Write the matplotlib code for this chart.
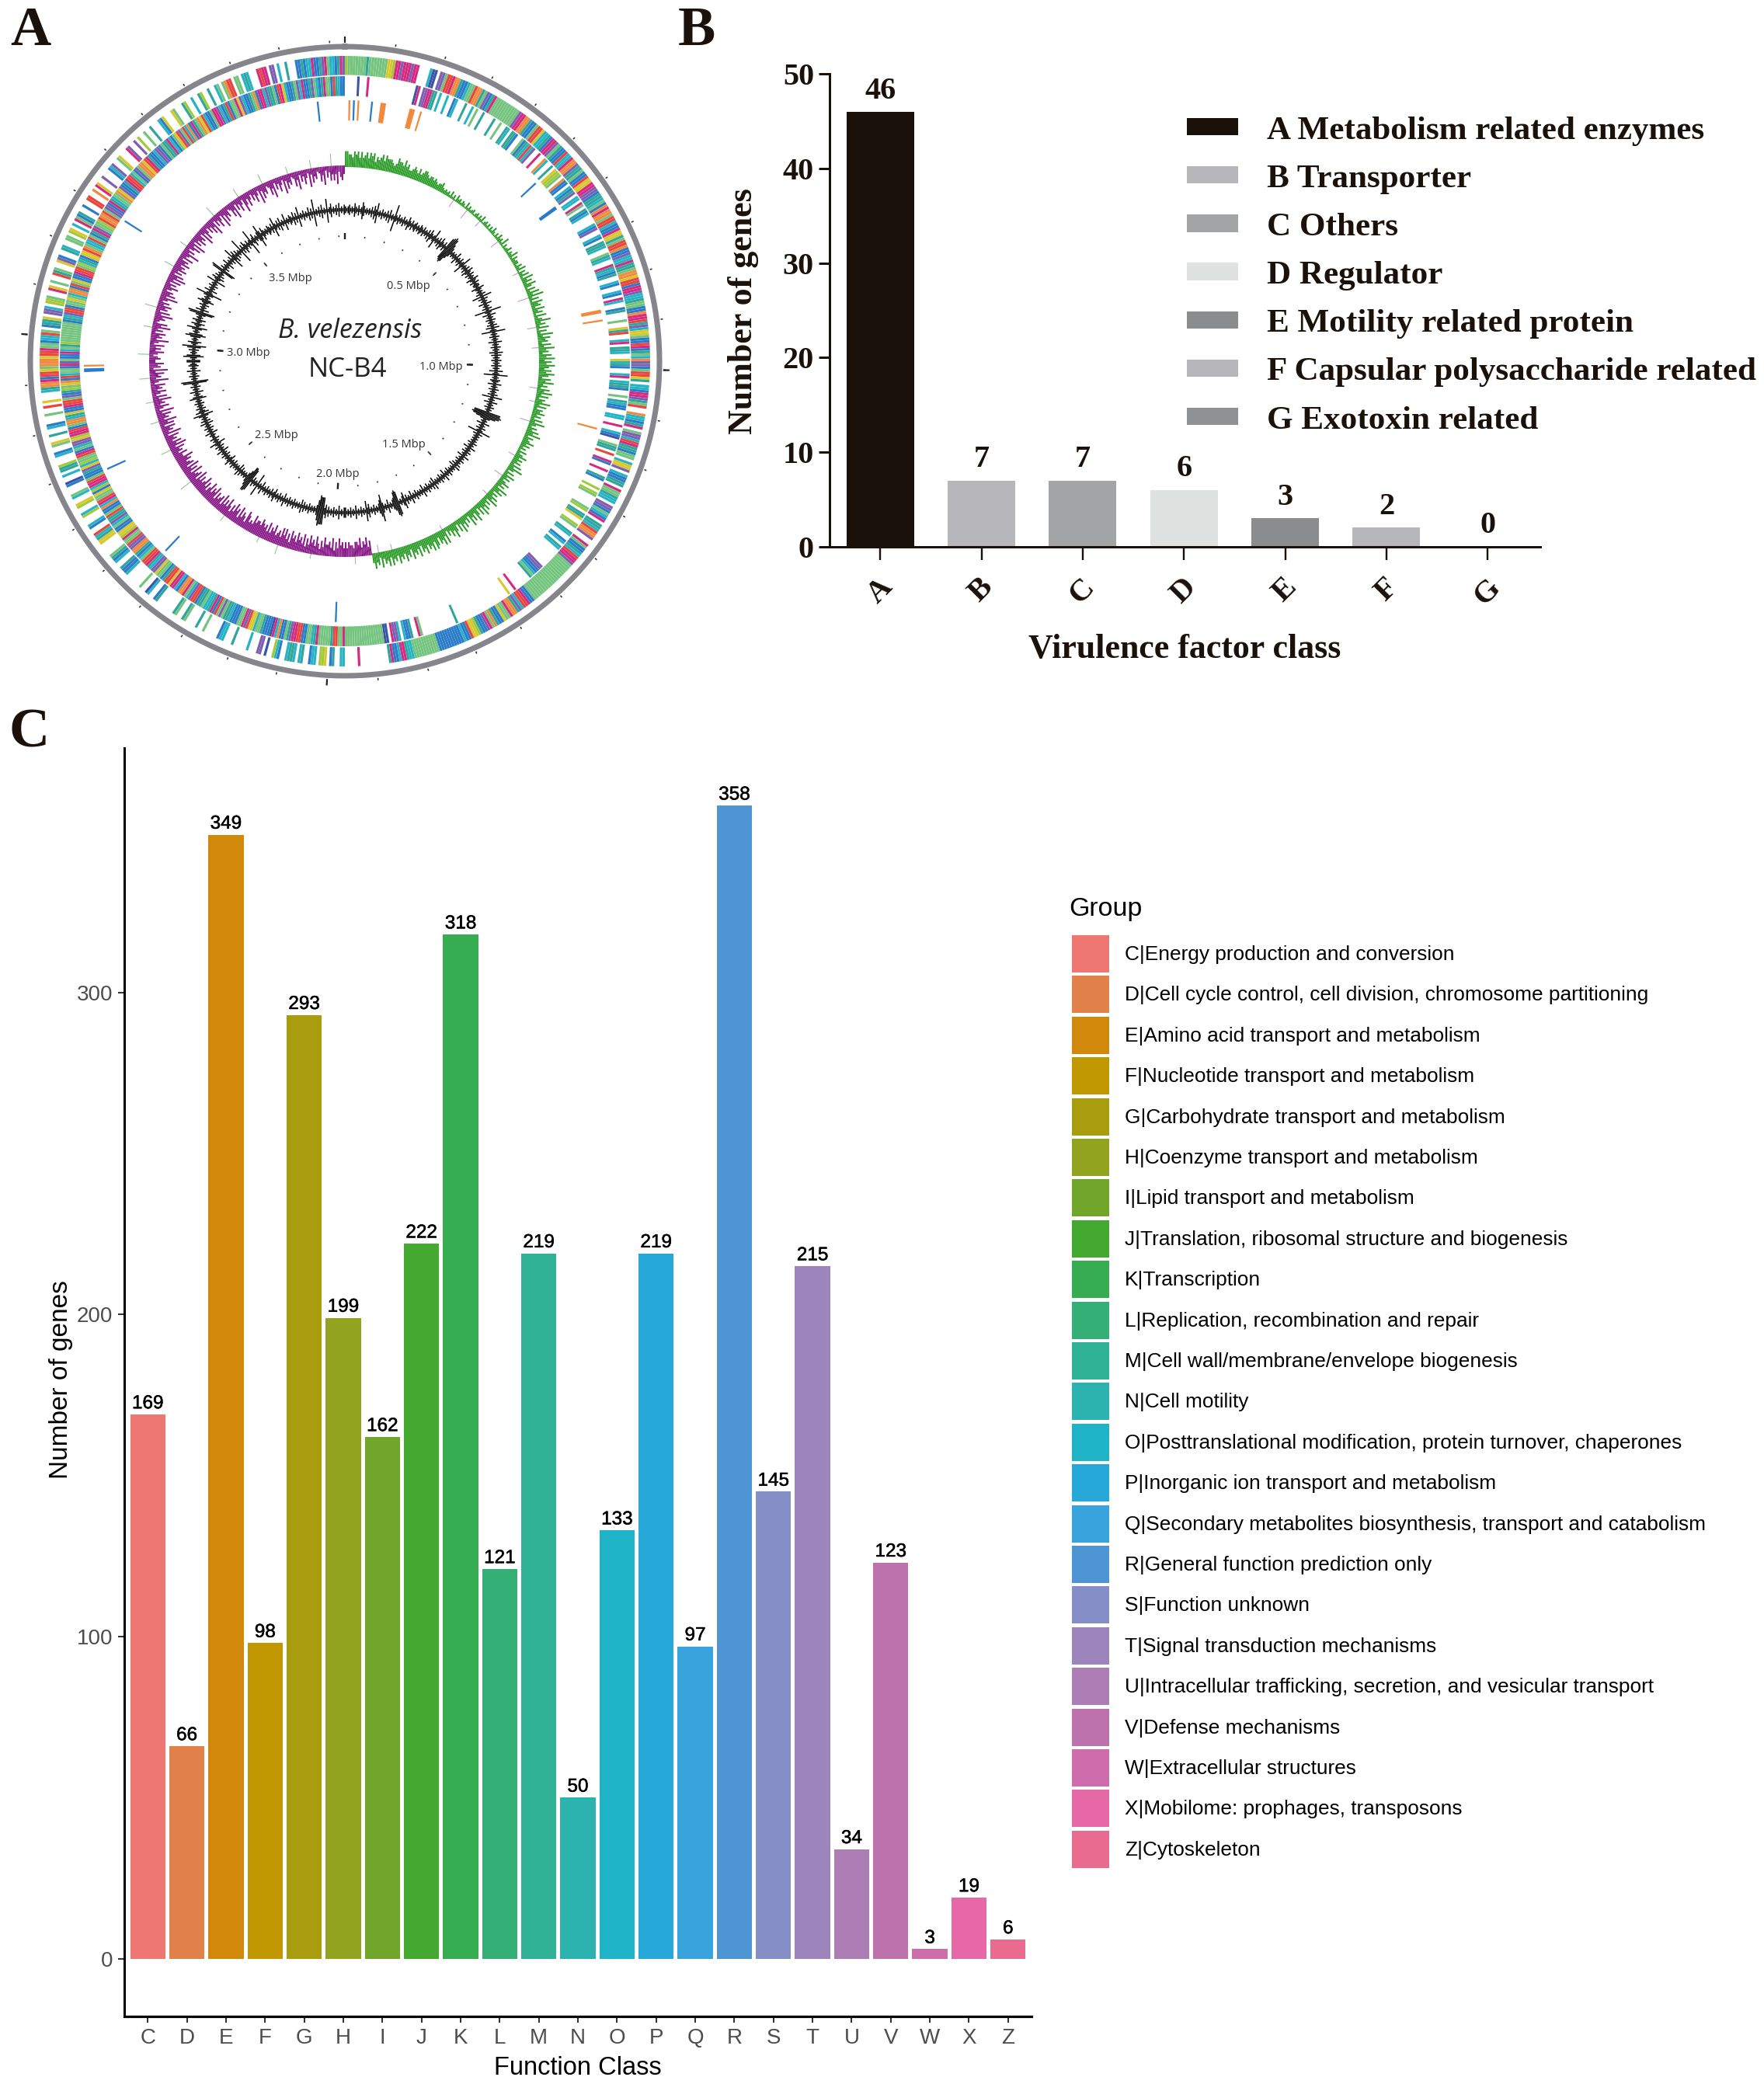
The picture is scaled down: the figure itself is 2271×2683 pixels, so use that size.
import numpy as np
import matplotlib
matplotlib.use('Agg')
import matplotlib.pyplot as plt
import matplotlib.patheffects as pe
from matplotlib.patches import Patch

W, H = 2271, 2683
DPI = 100

# ---------- Panel A data: circular genome map (read sector by sector, 30 degrees per chunk)
genome_mbp = 3.93
code_colors = {'g': '#74c47f', 'b': '#2b7cc8', 'm': '#d42a82', 'c': '#25b3c6', 'o': '#f08a3c',
               'p': '#7d5fb2', 't': '#2fa59c', 'l': '#a2c93a', 'r': '#e8453f', 'y': '#d8c72e',
               'n': '#3a55a8'}
forward_ring = [
    "lgggggggtgggggggyylmmpmmmpmm....cnn.ppgrrmootbbcggrootgpbtm",
    "ggggggggggpmmootbbgrrycctbmmpgtbbrccmoopttgbbryymmppbttcgbom",
    "oogrrcbbmyytgrrobbpccmttgooyrrbmmpcctggbbommrtpcyygbbrmbtgco",
    "ppbgrryt.ccbmmptgr..occbtm.gppcrmttbgg.cyyp.cbbtt.mggtcc.ppb",
    "gcbm.ttcroop..mgbbtcrmmpgggggggggggggggggggbbmrrcptoomggybbt",
    "ogmpbbtlyyrbbcbbbbbbbbbbggggggggggcctmmcbbmt...........m.....",
    "cc..tb.yll.ccb..tc.cttc..bcl..n.pp...c.....t...ccb.....g..t.",
    "...gt..gt.......tb..cn..g......cbbt..cbtg.....yytcr..bc...lc",
    "..ly..cg...bn..c.ttl...cb..gy..t..cb...g..r.y...ctoombrrygoo",
    "oyrrmggbccrg.btty.ppc.llg..my.g..rtg..ypb..tc..gg.ly.c.mgbt.",
    ".b..rr..o.my..p...bcp..gy...mp..p.l..g..t...cby...yg...tl..c",
    "..tl..t..cg.gorr.gg.ctc...mrmm.pp.c..t...bbtbccmbbtpmgccbtmp",
]
reverse_ring = [
    ".....n...m...................nm.ppmmtt.c..c..bc...t..c.g..t.",
    "...t..g..tc.ttb..gbtcrcp..m..oc..t.yllg.obb.cbtp.cc.mg.tbc..",
    "..cbp..cb.ttc..gtc..mtcbt..cb..cb.mc..bt...g..ytr..cm.ttc..y",
    "ctb..cm.cttb..g.tcbb..cc..m..cbn..gtt.r..mb..m..tb...l.lg...",
    "..gl.tty..lg..tc..bc.tc.........ppbbcgt.......m..y..........",
    ".............t..............gm..tbbc.cppm.nngggggggggggggggg",
    "mggrrtgggggmtcggbbrrmmptgbbocmnbbbtggcyyrpmggbbbcttgpgrbmtcc",
    "gttbrrpcgmoobcmmyrrtbggyppctmrrgcbtoopprggmlyybbgcpttrgbbocm",
    "rggyblcmmrgbbtpyclggrmbgcppylmmrbgooctybbmrrgpbtlgyobrcggbmp",
    "gbbmcgtlggggggggbtcprrbggygcoobrgybbmrrglctbyyrogccrgbtmpggl",
    "roorgppbmtcggoypbbtmrrcgbpgooyrmtbbcppbgttmcbgyrpgrcobmtgoyr",
    "cbbgmmpcbtrbggmypcbbtgobmmcpttgbrmycbbtgpcmbbtpgcbtmggbrtcbb",
]
rna_deg = [354, 1, 2, 3, 6, 8.5, 15, 17, 47, 54, 79, 81, 105, 182, 223.4, 245.6, 268, 269, 302.5]
rna_code = list("bobobooobbooobbbbobb")[:19]
rna_span = [1, 1, 1, 1, 1, 3, 3, 1, 1, 2, 2, 1, 1, 1, 1, 1, 2, 1, 1]

skew_values = [
    "998879897978979896878979888767988797866787686788767767656675",
    "454536352645354263534524535362453525364253645372534635473645",
    "536472647385748637485947386748573846957483749586748596748695",
    "869758697486957486958476958476857485964758694756857463746857",
    "574859637485746857496847586947586958479586947586958479685749",
    "697858969786978596879587968796879697869587978697869788677868",
    "687968596877968579687968596879687958697968769786968789788796",
    "768957869587968579686958768597869758697686958769586958768796",
    "685768596857684957684869576859468576958468576846957685947685",
    "576468575846957684759684576958476857469586746857485968475867",
    "586748569574685947586749586475869475864958674586947586497586",
    "475864958674586947586495867458694758649586745869475868695786",
]
skew_switch_deg = 172
counter_deg = [34, 39, 44, 52, 63, 71, 80, 86, 98, 102, 108, 119, 126, 133, 150, 166, 170,
               177, 190, 200, 206, 218, 232, 243, 252, 258, 265, 272, 280, 286, 299, 306, 318, 327, 335, 343, 350, 356]
counter_mag = [8, 10, 7, 9, 6, 11, 9, 7, 8, 6, 10, 7, 9, 6, 5, 6, 8,
               9, 6, 11, 7, 8, 14, 12, 10, 9, 12, 13, 10, 14, 12, 9, 13, 11, 12, 9, 10, 14]
gc_values = [
    "212312142131253121213142612131213141218213121312142131231213",
    "213121314212612131421317898531212141213126121314213121421312",
    "214212131613121412131821412131213141271213121412131214131213",
    "121312141271213214121312131612141213121889863121412131271312",
    "121213121412131214121312131412121312141213121214131213121412",
    "121312141213153121787431214121385312131214261213121412131213",
    "312141213121314288896312121312131412121312131214121312142131",
    "213121412171213178853121213141212131214212131214121312512131",
    "121412131214131213614213121312153121412131278121312141213214",
    "412641213147124121364121361241241213781412131253121382141213",
    "121612413121781312141213172413121813142131281241213731421213",
    "213162131412151213214131612131214131812131412171241213141213",
]

# ---------- Panel B data
vf_classes = ['A', 'B', 'C', 'D', 'E', 'F', 'G']
vf_counts = [46, 7, 7, 6, 3, 2, 0]
vf_legend = ['A Metabolism related enzymes', 'B Transporter', 'C Others', 'D Regulator',
             'E Motility related protein', 'F Capsular polysaccharide related', 'G Exotoxin related']
vf_colors = ['#1a120a', '#b7b7bb', '#a3a4a6', '#e0e1e1', '#8b8c8e', '#b7b7bb', '#8f9092']

# ---------- Panel C data
cog_classes = list("CDEFGHIJKLMNOPQRSTUVWXZ")
cog_counts = [169, 66, 349, 98, 293, 199, 162, 222, 318, 121, 219, 50, 133, 219, 97, 358, 145, 215, 34, 123, 3, 19, 6]
cog_names = ['C|Energy production and conversion',
             'D|Cell cycle control, cell division, chromosome partitioning',
             'E|Amino acid transport and metabolism',
             'F|Nucleotide transport and metabolism',
             'G|Carbohydrate transport and metabolism',
             'H|Coenzyme transport and metabolism',
             'I|Lipid transport and metabolism',
             'J|Translation, ribosomal structure and biogenesis',
             'K|Transcription',
             'L|Replication, recombination and repair',
             'M|Cell wall/membrane/envelope biogenesis',
             'N|Cell motility',
             'O|Posttranslational modification, protein turnover, chaperones',
             'P|Inorganic ion transport and metabolism',
             'Q|Secondary metabolites biosynthesis, transport and catabolism',
             'R|General function prediction only',
             'S|Function unknown',
             'T|Signal transduction mechanisms',
             'U|Intracellular trafficking, secretion, and vesicular transport',
             'V|Defense mechanisms',
             'W|Extracellular structures',
             'X|Mobilome: prophages, transposons',
             'Z|Cytoskeleton']
cog_colors = ['#ee7772', '#e2824a', '#d2880a', '#c19800', '#aa9c0f', '#92a31f', '#72a62b', '#43aa2f',
              '#35ad50', '#34b077', '#2fb296', '#2cb3b0', '#1fb3c8', '#26a9d8', '#38a3dc', '#4e95d3',
              '#868ec7', '#9d84bd', '#ad7db5', '#bd72ad', '#cd6dab', '#e768a6', '#ea6b90']

SERIF = 'Liberation Serif'
SANS = 'Liberation Sans'
DARK = '#1a120a'
px = 72.0 / DPI  # points per pixel

fig = plt.figure(figsize=(W / DPI, H / DPI), dpi=DPI, facecolor='white')


def box(left, top, right, bottom, **kw):
    return fig.add_axes([left / W, 1 - bottom / H, (right - left) / W, (bottom - top) / H], **kw)


def ptext(x, y, s, **kw):
    kw.setdefault('ha', 'center')
    kw.setdefault('va', 'center')
    return fig.text(x / W, 1 - y / H, s, **kw)


def handle_h(height_px, font_px):
    # matplotlib handle height = fontsize*(0.65*hh + 0.245)
    return (height_px / font_px - 0.245) / 0.65


# ---------- Panel A
R = 440
cx, cy = 444, 465
axA = box(cx - R, cy - R, cx + R, cy + R, projection='polar')
axA.set_theta_zero_location('N')
axA.set_theta_direction(-1)
axA.set_ylim(0, R)
axA.axis('off')


def draw_ring(chunks, r0, r1):
    th, wd, cl = [], [], []
    for k, chunk in enumerate(chunks):
        step = 30.0 / len(chunk)
        for i, ch in enumerate(chunk):
            if ch != '.':
                th.append(np.deg2rad(k * 30 + (i + 0.5) * step))
                wd.append(np.deg2rad(step * 0.97))
                cl.append(code_colors[ch])
    axA.bar(th, r1 - r0, width=wd, bottom=r0, color=cl, linewidth=0)


draw_ring(forward_ring, 368.5, 393)
draw_ring(reverse_ring, 341.5, 367)
axA.bar(np.deg2rad(rna_deg), 26, width=np.deg2rad(np.array(rna_span) * 0.4), bottom=310,
        color=[code_colors[c] for c in rna_code], linewidth=0)

# skew track
sk_th, sk_val = [], []
for k, chunk in enumerate(skew_values):
    step = 30.0 / len(chunk)
    for i, ch in enumerate(chunk):
        sk_th.append(k * 30 + (i + 0.5) * step)
        sk_val.append(int(ch))
sk_th = np.array(sk_th)
sk_val = np.array(sk_val, float)
pos = sk_th < skew_switch_deg
base = 251
cd = np.array(counter_deg, float)
cm = np.array(counter_mag, float)
cp = cd < skew_switch_deg
axA.vlines(np.deg2rad(cd[cp]), base - cm[cp] * 1.4, base, colors='#c79ad0', lw=1.1 * px)
axA.vlines(np.deg2rad(cd[~cp]), base, base + cm[~cp] * 1.2, colors='#8ccb88', lw=1.1 * px)
axA.vlines(np.deg2rad(sk_th[pos]), base - 1, base + sk_val[pos] ** 2 * 0.24, colors='#279a24', lw=2.0 * px)
axA.vlines(np.deg2rad(sk_th[~pos]), base - sk_val[~pos] ** 2 * 0.28, base + 1, colors='#861586', lw=2.0 * px)

# GC track
gc_th, gc_val = [], []
for k, chunk in enumerate(gc_values):
    step = 30.0 / len(chunk)
    for i, ch in enumerate(chunk):
        gc_th.append(k * 30 + (i + 0.5) * step)
        gc_val.append(int(ch))
gc_val = np.array(gc_val, float)
axA.vlines(np.deg2rad(gc_th), 195 - gc_val * 2.2, 195 + gc_val * 2.2, colors='#000000', lw=1.5 * px)

# outer ring and scale ticks
ring_t = np.linspace(0, 2 * np.pi, 721)
axA.plot(ring_t, np.full_like(ring_t, 405), color='#85858b', lw=7 * px)
mbp_minor = np.arange(0, genome_mbp, 0.1)
mbp_half = np.arange(0, genome_mbp, 0.5)
mbp_major = np.arange(0, genome_mbp, 1.0)
to_rad = lambda m: m / genome_mbp * 2 * np.pi
axA.vlines(to_rad(mbp_minor), 410, 413, colors='#333333', lw=1.6 * px)
axA.vlines(to_rad(mbp_major), 410, 418, colors='#222222', lw=2.2 * px)
axA.vlines(to_rad(mbp_minor), 160, 162, colors='#333333', lw=1.6 * px)
axA.vlines(to_rad(mbp_half), 158, 164, colors='#333333', lw=1.6 * px)
axA.vlines(to_rad(mbp_major), 157, 165, colors='#222222', lw=2.4 * px)

for x, y, s in [(374, 359, '3.5 Mbp'), (526, 368.5, '0.5 Mbp'), (320, 455, '3.0 Mbp'), (568, 472, '1.0 Mbp'),
                (356, 560, '2.5 Mbp'), (520, 572, '1.5 Mbp'), (435, 611, '2.0 Mbp')]:
    ptext(x, y, s, fontsize=10.5, family='Open Sans', color='#333333')
ptext(451, 426, 'B. velezensis', fontsize=24.5, family='Open Sans', style='italic', color='#222222')
ptext(447, 476, 'NC-B4', fontsize=25, family='Open Sans', color='#222222')

# ---------- Panel letters
for x, y, s in [(39, 41, 'A'), (897, 41, 'B'), (38, 944, 'C')]:
    ptext(x, y, s, fontsize=52, family=SERIF, weight='bold', color=DARK)

# ---------- Panel B
axB = box(1068, 95.4, 1983, 703.7)
xB = np.arange(len(vf_classes))
barsB = axB.bar(xB, vf_counts, width=0.667, color=vf_colors, linewidth=0)
axB.set_xlim(-0.5, 6.52)
axB.set_ylim(0, 50)
axB.set_xticks(xB, vf_classes)
axB.set_yticks(range(0, 51, 10))
for s in ('top', 'right'):
    axB.spines[s].set_visible(False)
for s in ('left', 'bottom'):
    axB.spines[s].set_linewidth(3 * px)
    axB.spines[s].set_color(DARK)
axB.tick_params(axis='y', length=14.5 * px, width=3 * px, color=DARK, pad=4,
                labelsize=29, labelcolor=DARK)
axB.tick_params(axis='x', length=17.4 * px, width=2.4 * px, color=DARK, pad=12,
                labelsize=29, labelcolor=DARK)
for t in axB.get_yticklabels():
    t.set_fontfamily(SERIF)
    t.set_fontweight('bold')
for t in axB.get_xticklabels():
    t.set_fontfamily(SERIF)
    t.set_fontweight('bold')
    t.set_rotation(45)
    t.set_rotation_mode('default')
axB.bar_label(barsB, labels=[str(v) for v in vf_counts], padding=6, fontsize=29,
              family=SERIF, weight='bold', color=DARK)
ptext(957, 401, 'Number of genes', rotation=90, fontsize=31.7, family=SERIF, weight='bold', color=DARK)
ptext(1525, 836, 'Virulence factor class', fontsize=31.6, family=SERIF, weight='bold', color=DARK)
handlesB = [Patch(facecolor=c, linewidth=0) for c in vf_colors]
fs = 31.1
fp = fs / px
legB = fig.legend(handlesB, vf_legend, loc='upper left', bbox_to_anchor=(1528 / W, 1 - 149.5 / H),
                  frameon=False, borderpad=0, borderaxespad=0, handlelength=66 / fp,
                  handleheight=handle_h(22.4, fp),
                  handletextpad=37 / fp, labelspacing=0.56,
                  prop={'family': SERIF, 'weight': 'bold', 'size': fs}, labelcolor=DARK)

# ---------- Panel C
axC = box(160, 963, 1328, 2596)
xC = np.arange(len(cog_classes))
barsC = axC.bar(xC, cog_counts, width=0.9, color=cog_colors, linewidth=0)
axC.set_xlim(-0.6, 22.6)
axC.set_ylim(-17.9, 375.9)
axC.set_xticks(xC, cog_classes)
axC.set_yticks([0, 100, 200, 300])
for s in ('top', 'right'):
    axC.spines[s].set_visible(False)
axC.spines['left'].set_linewidth(3 * px)
axC.spines['bottom'].set_linewidth(3.2 * px)
axC.tick_params(axis='both', length=8 * px, width=2 * px, color='#333333', labelcolor='#4d4d4d',
                labelsize=20, pad=5)
for t in axC.get_xticklabels() + axC.get_yticklabels():
    t.set_fontfamily(SANS)
labelsC = axC.bar_label(barsC, labels=[str(v) for v in cog_counts], padding=2, fontsize=17.5,
                        family=SANS, color='black')
for t in labelsC:
    t.set_path_effects([pe.withStroke(linewidth=0.35, foreground='black')])
axC.set_xlabel('Function Class', fontsize=23.5, family=SANS, labelpad=7)
ptext(78, 1776, 'Number of genes', rotation=90, fontsize=24, family=SANS, color='black')
handlesC = [Patch(facecolor=c, linewidth=0) for c in cog_colors]
fs = 18.9
fp = fs / px
legC = fig.legend(handlesC, cog_names, loc='upper left', bbox_to_anchor=(1380 / W, 1 - 1204 / H),
                  frameon=False, borderpad=0, borderaxespad=0, handlelength=48 / fp,
                  handleheight=handle_h(48, fp),
                  handletextpad=20 / fp, labelspacing=4.4 / fp,
                  prop={'family': SANS, 'size': fs})
ptext(1376, 1170, 'Group', ha='left', fontsize=24.5, family=SANS, color='black')

fig.savefig('out.png', dpi=DPI)
